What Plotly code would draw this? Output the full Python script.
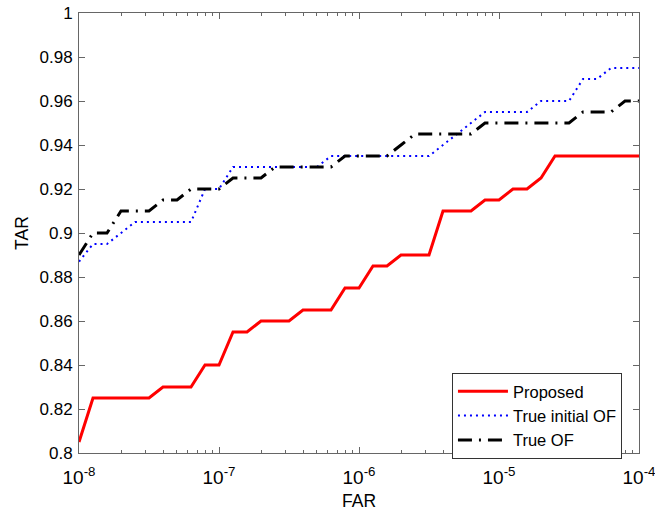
import plotly.graph_objects as go

# log10(FAR) sample positions
far_log = [-8.0, -7.9, -7.8, -7.7, -7.6, -7.5, -7.4, -7.3, -7.2, -7.1,
           -7.0, -6.9, -6.8, -6.7, -6.6, -6.5, -6.4, -6.3, -6.2, -6.1,
           -6.0, -5.9, -5.8, -5.7, -5.6, -5.5, -5.4, -5.3, -5.2, -5.1,
           -5.0, -4.9, -4.8, -4.7, -4.6, -4.5, -4.4, -4.3, -4.2, -4.1, -4.0]
far = [10 ** e for e in far_log]

tar_proposed = [0.805, 0.825, 0.825, 0.825, 0.825, 0.825, 0.83, 0.83, 0.83, 0.84,
                0.84, 0.855, 0.855, 0.86, 0.86, 0.86, 0.865, 0.865, 0.865, 0.875,
                0.875, 0.885, 0.885, 0.89, 0.89, 0.89, 0.91, 0.91, 0.91, 0.915,
                0.915, 0.92, 0.92, 0.925, 0.935, 0.935, 0.935, 0.935, 0.935, 0.935, 0.935]
tar_initial = [0.887, 0.895, 0.895, 0.9, 0.905, 0.905, 0.905, 0.905, 0.905, 0.92,
               0.92, 0.93, 0.93, 0.93, 0.93, 0.93, 0.93, 0.93, 0.935, 0.935,
               0.935, 0.935, 0.935, 0.935, 0.935, 0.935, 0.94, 0.945, 0.95, 0.955,
               0.955, 0.955, 0.955, 0.96, 0.96, 0.96, 0.97, 0.97, 0.975, 0.975, 0.975]
tar_true = [0.89, 0.9, 0.9, 0.91, 0.91, 0.91, 0.915, 0.915, 0.92, 0.92,
            0.92, 0.925, 0.925, 0.925, 0.93, 0.93, 0.93, 0.93, 0.93, 0.935,
            0.935, 0.935, 0.935, 0.94, 0.945, 0.945, 0.945, 0.945, 0.945, 0.95,
            0.95, 0.95, 0.95, 0.95, 0.95, 0.95, 0.955, 0.955, 0.955, 0.96, 0.96]

series_names = ["Proposed", "True initial OF", "True OF"]
x_tickvals = [1e-8, 1e-7, 1e-6, 1e-5, 1e-4]
x_ticktext = ["10<sup>-8</sup>", "10<sup>-7</sup>", "10<sup>-6</sup>",
              "10<sup>-5</sup>", "10<sup>-4</sup>"]
x_title = "FAR"
y_title = "TAR"

fig = go.Figure()
fig.add_trace(go.Scatter(x=far, y=tar_proposed, mode="lines", name=series_names[0],
                         line=dict(color="#ff0000", width=3)))
fig.add_trace(go.Scatter(x=far, y=tar_initial, mode="lines", name=series_names[1],
                         line=dict(color="#0000ff", width=2, dash="2px,4px")))
fig.add_trace(go.Scatter(x=far, y=tar_true, mode="lines", name=series_names[2],
                         line=dict(color="#000000", width=3, dash="14px,7px,2px,7px")))

axis_col = "#666666"
fam = "Liberation Sans, Arial, sans-serif"
font = dict(family=fam, size=17, color="#000000")

fig.update_layout(
    width=655, height=511,
    margin=dict(l=79, r=16, t=13, b=58, autoexpand=False),
    paper_bgcolor="white", plot_bgcolor="white",
    font=font,
    showlegend=True,
    legend=dict(x=0.666, y=0.182, xanchor="left", yanchor="top",
                bgcolor="white", bordercolor="#333333", borderwidth=1,
                font=dict(family=fam, size=16.5),
                itemwidth=50, tracegroupgap=0),
    xaxis=dict(type="log", range=[-8, -4],
               tickmode="array", tickvals=x_tickvals, ticktext=x_ticktext,
               showgrid=False, zeroline=False, automargin=False,
               showline=True, linecolor=axis_col, linewidth=1, mirror="ticks",
               ticks="inside", ticklen=6, tickcolor=axis_col,
               tickfont=dict(size=19),
               ticklabelstandoff=7, ticklabeloverflow="allow",
               minor=dict(ticks="inside", ticklen=3, tickcolor=axis_col, showgrid=False,
                          dtick="D1")),
    yaxis=dict(range=[0.8, 1.0], dtick=0.02, tick0=0.8,
               showgrid=False, zeroline=False, automargin=False,
               showline=True, linecolor=axis_col, linewidth=1, mirror="ticks",
               ticks="inside", ticklen=6, tickcolor=axis_col,
               ticklabelstandoff=2),
    annotations=[
        dict(text=x_title, xref="paper", yref="paper", x=0.5, y=-0.108,
             xanchor="center", yanchor="middle", showarrow=False, borderpad=0,
             font=dict(family=fam, size=17.5)),
        dict(text=y_title, xref="paper", yref="paper", x=-0.102, y=0.5,
             xanchor="center", yanchor="middle", showarrow=False, textangle=-90,
             borderpad=0, font=dict(family=fam, size=17.5)),
    ],
)

fig.write_html("out.html")
